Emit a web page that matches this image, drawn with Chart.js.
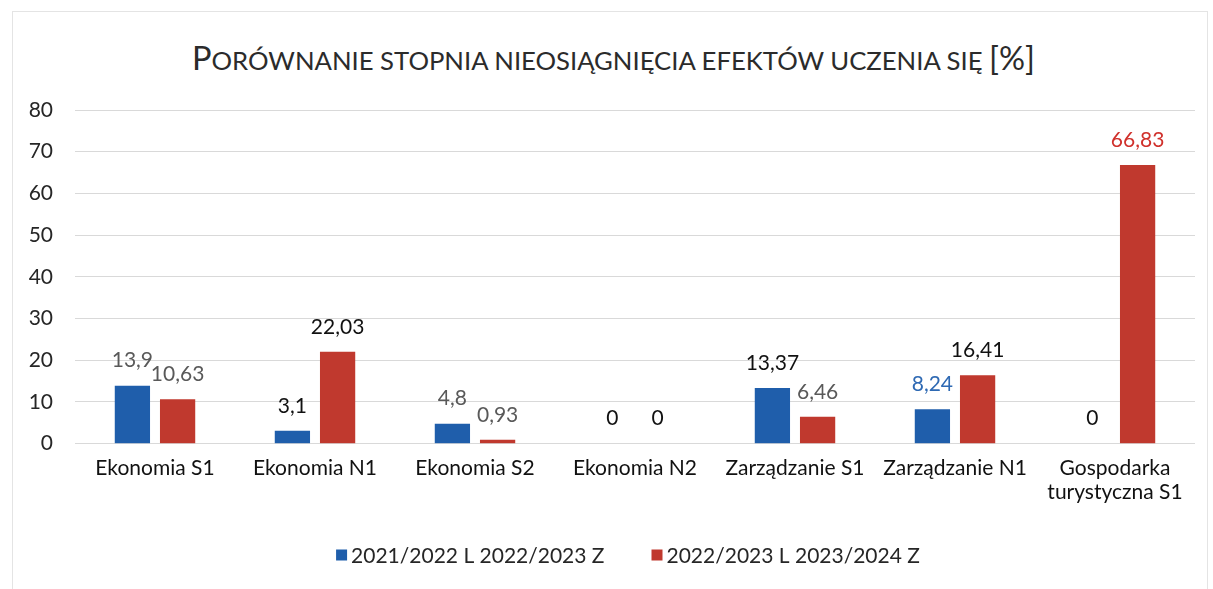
<!DOCTYPE html>
<html>
<head>
<meta charset="utf-8">
<script src="https://cdn.jsdelivr.net/npm/chart.js@4.4.1/dist/chart.umd.min.js"></script>
<style>
  html, body { margin: 0; padding: 0; background: #ffffff; }
  #wrap { position: relative; width: 1213px; height: 589px; overflow: hidden; background: #fff; }
  #frame { position: absolute; left: 12px; top: 11px; width: 1196px; height: 600px; border: 1px solid #e4e4e4; box-sizing: border-box; }
  #title { position: absolute; left: 7px; width: 1213px; top: 38px; text-align: center; font-family: Lato, "Open Sans", sans-serif; color: #2b2b2b; white-space: nowrap; line-height: 40px; }
  #title .big { font-size: 32.5px; }
  #title .sc { font-size: 25.7px; text-transform: uppercase; }
  canvas { position: absolute; left: 0; top: 0; }
</style>
</head>
<body>
<div id="wrap">
  <div id="frame"></div>
  <div id="title"><span class="big">P</span><span class="sc">orównanie stopnia nieosiągnięcia efektów uczenia się </span><span class="big">[%]</span></div>
  <canvas id="c" width="1213" height="589"></canvas>
</div>
<script>
// ---- data ----
const categories = [
  'Ekonomia S1',
  'Ekonomia N1',
  'Ekonomia S2',
  'Ekonomia N2',
  'Zarządzanie S1',
  'Zarządzanie N1',
  ['Gospodarka', 'turystyczna S1']
];
const seriesNames = ['2021/2022 L 2022/2023 Z', '2022/2023 L 2023/2024 Z'];
const values2122 = [13.9, 3.1, 4.8, 0, 13.37, 8.24, 0];
const values2223 = [10.63, 22.03, 0.93, 0, 6.46, 16.41, 66.83];
const yTicks = [0, 10, 20, 30, 40, 50, 60, 70, 80];

// ---- styles ----
const BLUE = '#1f5eab';
const RED = '#c0392e';
const GREY = '#595959';
const BLACK = '#111111';
const labelColors = [
  [GREY, BLACK, GREY, BLACK, BLACK, '#2e69b3', BLACK],
  [GREY, BLACK, GREY, BLACK, GREY, BLACK, '#d0302b']
];
const FONT = 'Lato, "Open Sans", sans-serif';
const LEGEND_STYLE = { centerX: 628, y: 555, box: 11, boxGap: 4, itemGap: 47, size: 21, color: '#262626' };

const valueLabels = {
  id: 'valueLabels',
  afterDatasetsDraw(chart) {
    const ctx = chart.ctx;
    ctx.save();
    ctx.font = '21px ' + FONT;
    ctx.textAlign = 'center';
    ctx.textBaseline = 'middle';
    chart.data.datasets.forEach((ds, di) => {
      const meta = chart.getDatasetMeta(di);
      meta.data.forEach((el, i) => {
        const v = ds.data[i];
        ctx.fillStyle = labelColors[di][i];
        ctx.fillText(String(v).replace('.', ','), el.x, el.y - 25);
      });
    });
    ctx.restore();
  }
};

// legend drawn from the chart's own datasets (labels + colours)
const bottomLegend = {
  id: 'bottomLegend',
  afterDraw(chart) {
    const s = LEGEND_STYLE;
    const ctx = chart.ctx;
    ctx.save();
    ctx.font = s.size + 'px ' + FONT;
    ctx.textBaseline = 'middle';
    ctx.textAlign = 'left';
    const items = chart.data.datasets.map(ds => ({ text: ds.label, color: ds.backgroundColor, w: ctx.measureText(ds.label).width }));
    const total = items.reduce((a, it) => a + s.box + s.boxGap + it.w, 0) + s.itemGap * (items.length - 1);
    let x = s.centerX - total / 2;
    items.forEach(it => {
      ctx.fillStyle = it.color;
      ctx.fillRect(x, s.y - s.box / 2, s.box, s.box);
      x += s.box + s.boxGap;
      ctx.fillStyle = s.color;
      ctx.fillText(it.text, x, s.y + 1);
      x += it.w + s.itemGap;
    });
    ctx.restore();
  }
};

new Chart(document.getElementById('c'), {
  type: 'bar',
  data: {
    labels: categories,
    datasets: [
      { label: seriesNames[0], data: values2122, backgroundColor: BLUE, borderWidth: 0 },
      { label: seriesNames[1], data: values2223, backgroundColor: RED, borderWidth: 0 }
    ]
  },
  options: {
    responsive: false,
    animation: false,
    devicePixelRatio: 1,
    categoryPercentage: 0.565,
    barPercentage: 0.78,
    layout: { padding: { left: 15, right: 18, top: 110, bottom: 73 } },
    plugins: {
      title: { display: false },
      tooltip: { enabled: false },
      legend: { display: false }
    },
    scales: {
      x: {
        grid: { display: false, drawTicks: false },
        border: { display: false },
        ticks: {
          font: { family: FONT, size: 21, lineHeight: 1.15 },
          color: BLACK,
          padding: 12,
          maxRotation: 0,
          autoSkip: false
        }
      },
      y: {
        min: 0,
        max: 80,
        afterFit(scale) { scale.width = 60; },
        afterBuildTicks(scale) { scale.ticks = yTicks.map(v => ({ value: v })); },
        grid: { color: '#d9d9d9', lineWidth: 1, drawTicks: false },
        border: { display: false },
        ticks: {
          font: { family: FONT, size: 21 },
          color: '#262626',
          padding: 22
        }
      }
    }
  },
  plugins: [valueLabels, bottomLegend]
});
</script>
</body>
</html>
